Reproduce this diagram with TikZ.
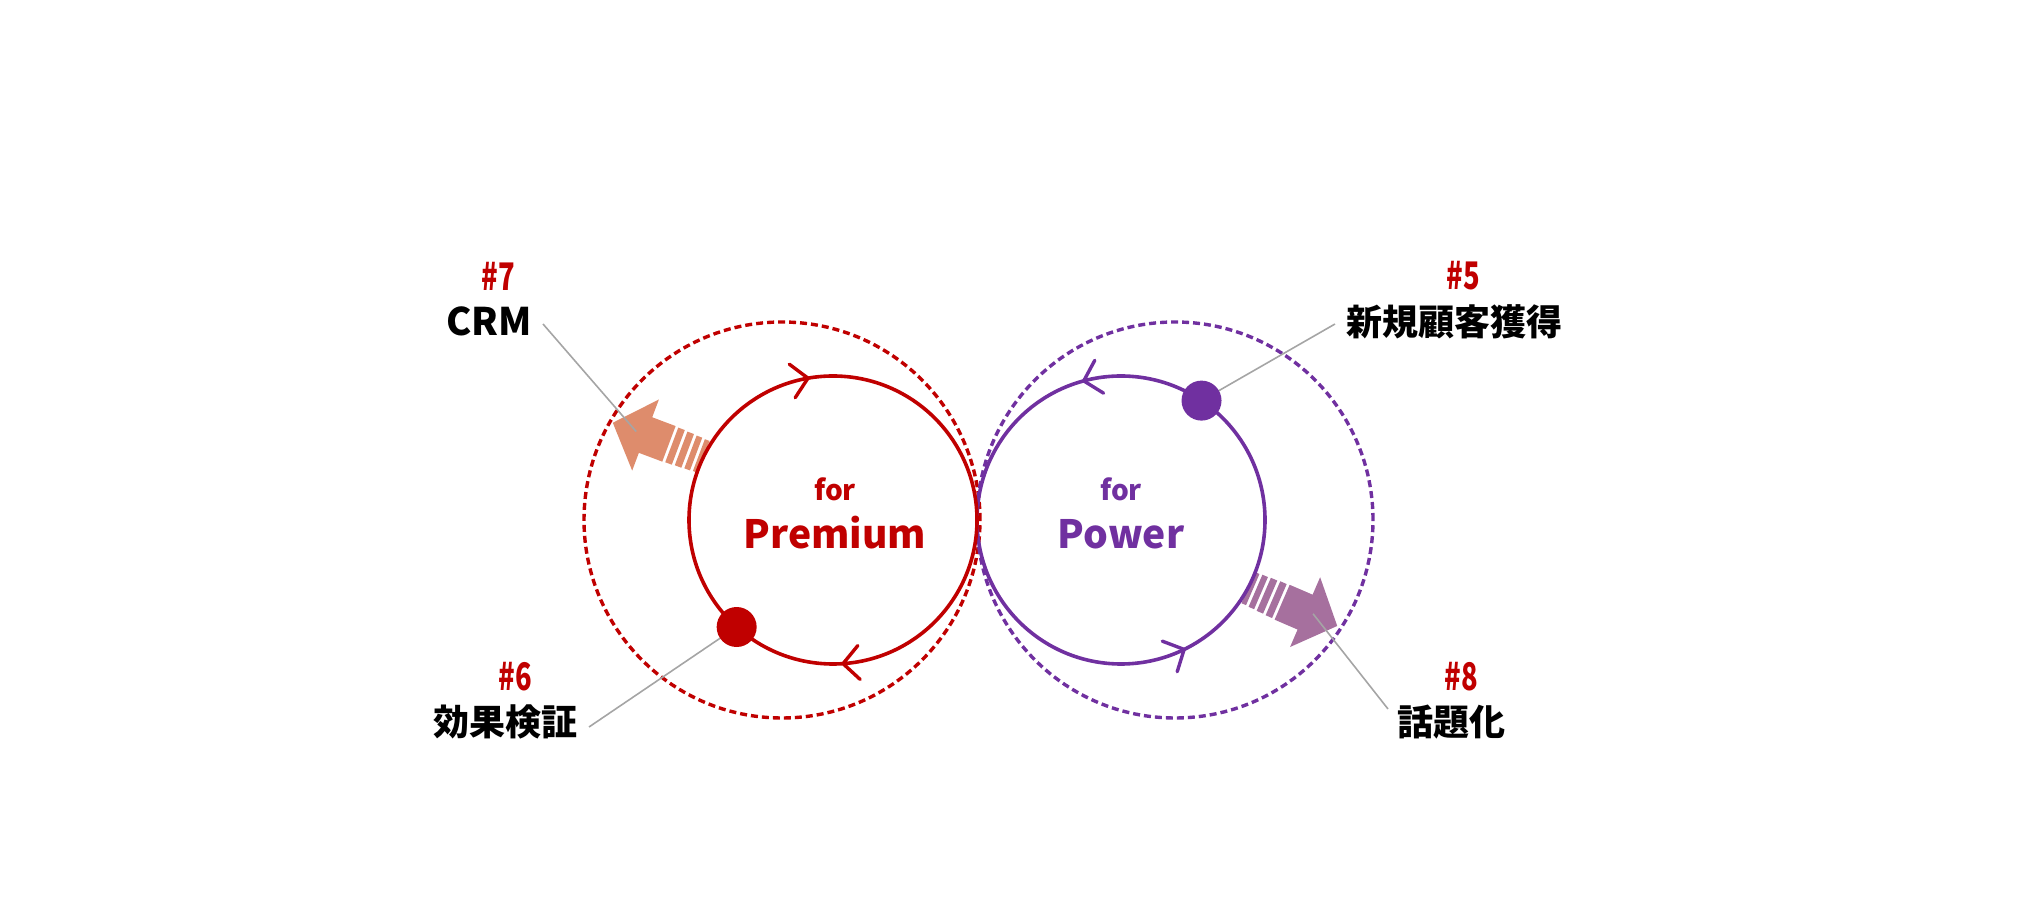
\documentclass[tikz,border=0pt]{standalone}
\usepackage{fontspec}
\newfontfamily\jp{Noto Sans CJK JP}
\usetikzlibrary{calc}
\definecolor{cred}{RGB}{192,0,0}
\definecolor{cpur}{RGB}{112,48,160}
\definecolor{corg}{RGB}{222,140,108}
\definecolor{cmau}{RGB}{166,112,158}
\definecolor{cgry}{RGB}{165,165,165}
\tikzset{
  fatarrow/.pic={
    \fill (37,-19) -- (62,-19) -- (62,-38) -- (97,0) -- (62,38) -- (62,19) -- (37,19) -- cycle;
    \fill (27,-18.5) rectangle (34,18.5);
    \fill (17,-18) rectangle (24,18);
    \fill (8,-17.5) rectangle (14,17.5);
    \fill (0,-17) rectangle (5,17);
  }
}
\begin{document}
\begin{tikzpicture}[x=1pt,y=1pt,
  lab/.style={font=\jp\bfseries\fontsize{36}{38}\selectfont, text=black, inner sep=0pt},
  num/.style={font=\jp\bfseries\fontsize{38}{40}\selectfont, text=cred, inner sep=0pt},
  lead/.style={draw=cgry, line width=1.6pt},
  solidc/.style={line width=3.6pt},
  dashc/.style={line width=3.4pt, dash pattern=on 7pt off 4pt},
  vhead/.style={line width=3.4pt, line cap=round, line join=miter},
  big/.style={font=\jp\bfseries\fontsize{39}{41}\selectfont, inner sep=0pt},
  small/.style={font=\jp\bfseries\fontsize{28}{30}\selectfont, inner sep=0pt},
  dot/.style={circle, inner sep=0pt, minimum size=40pt}]
\useasboundingbox (0,0) rectangle (2029,923);
\coordinate (rc) at (833,403);
\coordinate (rd) at (782,403);
\coordinate (pc) at (1121,403);
\coordinate (pd) at (1175,403);
% thick arrows
\path (rc) ++(154:144) coordinate (rb);
\path (pc) ++(-28:144) coordinate (pb);
\pic[fill=corg, rotate=159.4] at (rb) {fatarrow};
\pic[fill=cmau, rotate=-23.3] at (pb) {fatarrow};
\path (rb) ++(159.4:72) coordinate (rt);
\path (pb) ++(-22:70) coordinate (pt);
% circles
\draw[cred, dashc] (rd) circle[radius=198];
\draw[cpur, dashc] (pd) circle[radius=198];
\draw[cpur, solidc] (pc) circle[radius=144];
\draw[cred, solidc] (rc) circle[radius=144];
% direction marks
\foreach \a/\d in {100/10, 274/184} {
  \path (rc) ++(\a:144) coordinate (v);
  \draw[cred, vhead, shift={(v)}, rotate=\d] (-16,17) -- (0,0) -- (-16,-17);
}
\foreach \a/\d in {105/195, 296/26} {
  \path (pc) ++(\a:144) coordinate (v);
  \draw[cpur, vhead, shift={(v)}, rotate=\d] (-16,17) -- (0,0) -- (-16,-17);
}
% labels
\node[num] (n7) at (498,647) {\scalebox{0.72}[1]{\#7}};
\node[lab, font=\jp\bfseries\fontsize{38}{40}\selectfont] (crm) at (489,602) {CRM};
\node[num] (n6) at (515,246) {\scalebox{0.72}[1]{\#6}};
\node[lab] (kouka) at (505,201) {効果検証};
\node[num] (n5) at (1463,647) {\scalebox{0.72}[1]{\#5}};
\node[lab] (shinki) at (1454,601) {新規顧客獲得};
\node[num] (n8) at (1461,246) {\scalebox{0.72}[1]{\#8}};
\node[lab] (wadai) at (1451,201) {話題化};
% dots
\path (rc) ++(228:144) coordinate (rdp);
\path (pc) ++(56:144) coordinate (pdp);
\coordinate (crmS) at (543,599);
\coordinate (kS) at (589,196);
\coordinate (sS) at (1335,599);
\coordinate (wS) at (1388,214);
\draw[lead] (crmS) -- (rt);
\draw[lead] (wS) -- (pt);
\draw[lead] (kS) -- (rdp);
\draw[lead] (sS) -- (pdp);
\node[dot, fill=cred] (rdot) at (rdp) {};
\node[dot, fill=cpur] (pdot) at (pdp) {};
% centre texts
\node[small, text=cred] (f1) at (835,434) {for};
\node[big, text=cred] (prem) at (835,390) {Premium};
\node[small, text=cpur] (f2) at (1121,434) {for};
\node[big, text=cpur] (pow) at (1121,389) {Power};
\end{tikzpicture}
\end{document}
